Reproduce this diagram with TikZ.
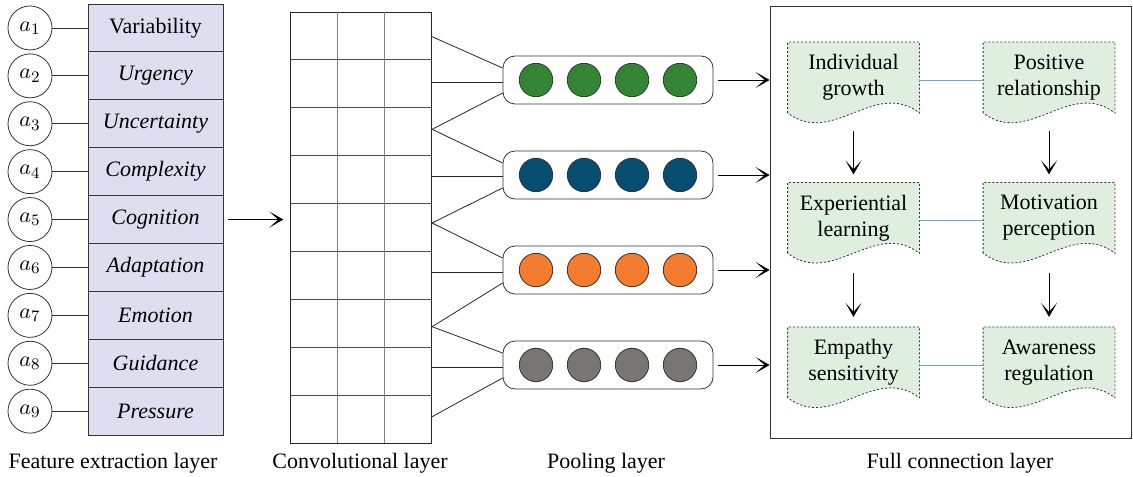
\documentclass[tikz,border=0pt]{standalone}
\usepackage{fontspec}
\setmainfont{Liberation Serif}
\usetikzlibrary{arrows.meta,positioning,backgrounds,calc}
\definecolor{featfill}{RGB}{221,222,240}
\definecolor{docfill}{RGB}{222,238,223}
\definecolor{linkblue}{RGB}{111,166,218}
\definecolor{poolgreen}{RGB}{51,135,52}
\definecolor{poolblue}{RGB}{5,78,114}
\definecolor{poolorange}{RGB}{243,124,48}
\definecolor{poolgray}{RGB}{120,117,116}
\tikzset{
  feat/.style={rectangle, draw=black!80, fill=featfill, minimum width=67.5pt, minimum height=23.95pt, inner sep=0pt},
  inp/.style={circle, draw=black!80, minimum size=22pt, inner sep=0pt},
  pool/.style={rectangle, draw=black!80, rounded corners=6pt, minimum width=105pt, minimum height=24pt},
  unit/.style={circle, draw=black!80, minimum size=16.7pt, inner sep=0pt},
  doc/.style={align=center, minimum width=65.5pt, minimum height=35pt, inner sep=0pt},
  docline/.style={draw=black!80, dash pattern=on 1pt off 1pt, fill=docfill},
  link/.style={draw=linkblue, line width=0.6pt},
  arr/.style={-{Stealth[length=7pt,width=8pt,inset=4.5pt]}},
}

\begin{document}
\begin{tikzpicture}[x=0.5pt, y=-0.5pt, font=\fontsize{11}{13}\selectfont]
  \useasboundingbox (0,0) rectangle (1133,476);
  % Feature extraction layer
  \foreach \t [count=\i] in {Variability, \textit{Urgency}, \textit{Uncertainty}, \textit{Complexity}, \textit{Cognition}, \textit{Adaptation}, \textit{Emotion}, \textit{Guidance}, \textit{Pressure}} {
    \node [feat] (f\i) at (155.5, {4+47.9*(\i-0.5)}) {\t};
    \node [inp] (a\i) at (30, {4+47.9*(\i-0.5)}) {$a_{\i}$};
    \draw [black!80] (a\i) -- (f\i);
  }
  % Convolutional layer
  \node [draw=black!85, minimum width=70.5pt, minimum height=215.4pt, inner sep=0pt] (conv) at (361.2, 227.6) {};
  \foreach \k in {1,...,8}
    \draw [black!70] ($(conv.north west)!{\k/9}!(conv.south west)$) -- ($(conv.north east)!{\k/9}!(conv.south east)$);
  \foreach \k in {1,2}
    \draw [black!50] ($(conv.north west)!{\k/3}!(conv.north east)$) -- ($(conv.south west)!{\k/3}!(conv.south east)$);
  \foreach \y [count=\i] in {36.7,82,129.3,176,223,272.7,326.7,367.7,416.7}
    \coordinate (c\i) at (conv.east |- 0,\y);
  \draw [arr, shorten <=2.5pt, shorten >=3.5pt] (f5.east) -- (f5.east -| conv.west);
  % Pooling layer
  \foreach \c/\y [count=\k] in {poolgreen/80, poolblue/175, poolorange/270, poolgray/365} {
    \node [pool] (p\k) at (608,\y) {};
    \foreach \x [count=\j] in {536,584,632,680}
      \node [unit, fill=\c] (u\k\j) at (\x,\y) {};
  }
  \foreach \k in {1,...,4} {
    \pgfmathtruncatemacro\ia{2*\k-1}
    \pgfmathtruncatemacro\ib{2*\k}
    \pgfmathtruncatemacro\ic{2*\k+1}
    \draw [black!85] (c\ia) -- ([yshift=6pt]p\k.west);
    \draw [black!85] (c\ib) -- (c\ib -| p\k.west);
    \draw [black!85] (c\ic) -- ([yshift=-6.5pt]p\k.west);
  }
  % Full connection layer
  \node [draw=black!80, minimum width=180.5pt, minimum height=216pt, inner sep=0pt] (fc) at (950.5, 222) {};
  \foreach \k in {1,...,4}
    \draw [arr] ([xshift=2.5pt]p\k.east) -- (p\k.east -| fc.west);
  \node [doc] (d11) at (853.5,77.5) {Individual\\growth};
  \node [doc] (d12) at (1049,77.5) {Positive\\relationship};
  \node [doc] (d21) at (853.5,217.8) {Experiential\\learning};
  \node [doc] (d22) at (1049,217.8) {Motivation\\perception};
  \node [doc] (d31) at (853.5,362.3) {Empathy\\sensitivity};
  \node [doc] (d32) at (1049,362.3) {Awareness\\regulation};
  \begin{scope}[on background layer]
    \foreach \n in {d11,d12,d21,d22,d31,d32}
      \path [docline] (\n.south west) -- (\n.north west) -- (\n.north east) -- (\n.south east)
        .. controls +(-22.5pt,17pt) and +(22.5pt,-17pt) .. (\n.south west) -- cycle;
  \end{scope}
  \foreach \r in {1,2,3}
    \draw [link] ([yshift=-1.5pt]d\r1.east) -- ([yshift=-1.5pt]d\r2.west);
  \foreach \c in {1,2} {
    \draw [arr, shorten <=9pt, shorten >=4pt] (d1\c.south) -- (d2\c.north);
    \draw [arr, shorten <=10pt, shorten >=5pt] (d2\c.south) -- (d3\c.north);
  }
  % Layer names
  \node (lfeat) at (113,463) {Feature extraction layer};
  \node (lconv) at (360,463) {Convolutional layer};
  \node (lpool) at (606,463) {Pooling layer};
  \node (lfc) at (960,463) {Full connection layer};
\end{tikzpicture}
\end{document}
